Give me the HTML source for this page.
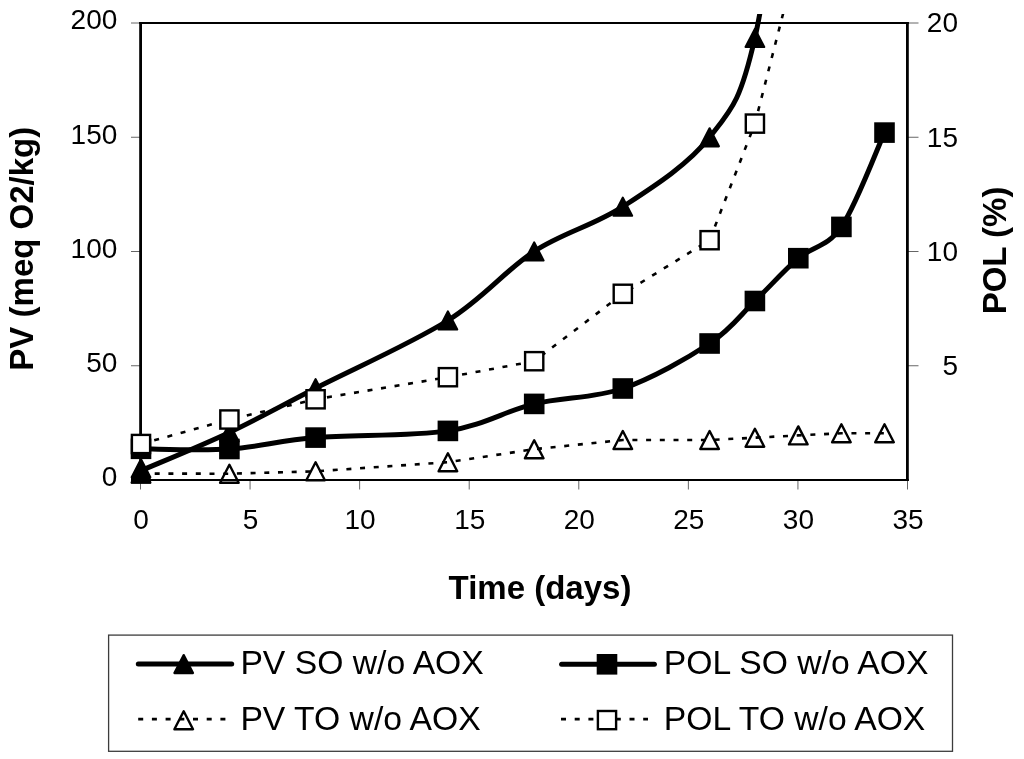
<!DOCTYPE html>
<html><head><meta charset="utf-8"><title>Chart</title>
<style>
html,body{margin:0;padding:0;background:#fff;}
body{width:1024px;height:759px;overflow:hidden;font-family:"Liberation Sans",sans-serif;}
svg{display:block;filter:grayscale(1);}
</style></head><body>
<svg width="1024" height="759" viewBox="0 0 1024 759">
<rect width="1024" height="759" fill="#fff"/>
<defs><clipPath id="pc"><rect x="0" y="14.0" width="1024" height="745.0"/></clipPath></defs>
<g opacity="0.6"><line x1="131" y1="480.00" x2="140" y2="480.00" stroke="#000" stroke-width="1"/>
<line x1="131" y1="365.75" x2="140" y2="365.75" stroke="#000" stroke-width="1"/>
<line x1="907" y1="365.75" x2="918.5" y2="365.75" stroke="#000" stroke-width="1"/>
<line x1="131" y1="251.50" x2="140" y2="251.50" stroke="#000" stroke-width="1"/>
<line x1="907" y1="251.50" x2="918.5" y2="251.50" stroke="#000" stroke-width="1"/>
<line x1="131" y1="137.25" x2="140" y2="137.25" stroke="#000" stroke-width="1"/>
<line x1="907" y1="137.25" x2="918.5" y2="137.25" stroke="#000" stroke-width="1"/>
<line x1="131" y1="23.00" x2="140" y2="23.00" stroke="#000" stroke-width="1"/>
<line x1="907" y1="23.00" x2="918.5" y2="23.00" stroke="#000" stroke-width="1"/>
<line x1="140.50" y1="480" x2="140.50" y2="489.5" stroke="#000" stroke-width="1"/>
<line x1="250.07" y1="480" x2="250.07" y2="489.5" stroke="#000" stroke-width="1"/>
<line x1="359.64" y1="480" x2="359.64" y2="489.5" stroke="#000" stroke-width="1"/>
<line x1="469.21" y1="480" x2="469.21" y2="489.5" stroke="#000" stroke-width="1"/>
<line x1="578.79" y1="480" x2="578.79" y2="489.5" stroke="#000" stroke-width="1"/>
<line x1="688.36" y1="480" x2="688.36" y2="489.5" stroke="#000" stroke-width="1"/>
<line x1="797.93" y1="480" x2="797.93" y2="489.5" stroke="#000" stroke-width="1"/>
<line x1="907.50" y1="480" x2="907.50" y2="489.5" stroke="#000" stroke-width="1"/></g>
<line x1="140.6" y1="22" x2="140.6" y2="481" stroke="#000" stroke-width="2.8"/>
<line x1="907.4" y1="22" x2="907.4" y2="481" stroke="#000" stroke-width="2.8"/>
<line x1="139.2" y1="23" x2="908.8" y2="23" stroke="#000" stroke-width="2"/>
<line x1="139.2" y1="480" x2="908.8" y2="480" stroke="#000" stroke-width="2"/>
<g clip-path="url(#pc)">
<path d="M141.00 470.60 C155.73 464.23 200.30 446.13 229.40 432.40 C258.50 418.67 279.18 406.85 315.60 388.20 C352.02 369.55 411.47 343.30 447.90 320.50 C484.33 297.70 505.05 270.37 534.20 251.40 C563.35 232.43 593.57 225.72 622.80 206.70 C652.03 187.68 687.58 165.42 709.60 137.30 C731.62 109.18 740.12 102.55 754.90 38.00 C769.68 -26.55 791.07 -202.00 798.30 -250.00" fill="none" stroke="#000" stroke-width="5.00" stroke-linejoin="round"/>
<polygon points="141.00,459.20 150.30,477.20 131.70,477.20" fill="#000" stroke="#000" stroke-width="2.2" stroke-linejoin="round"/>
<polygon points="229.40,423.40 238.70,441.40 220.10,441.40" fill="#000" stroke="#000" stroke-width="2.2" stroke-linejoin="round"/>
<polygon points="315.60,379.20 324.90,397.20 306.30,397.20" fill="#000" stroke="#000" stroke-width="2.2" stroke-linejoin="round"/>
<polygon points="447.90,311.50 457.20,329.50 438.60,329.50" fill="#000" stroke="#000" stroke-width="2.2" stroke-linejoin="round"/>
<polygon points="534.20,242.40 543.50,260.40 524.90,260.40" fill="#000" stroke="#000" stroke-width="2.2" stroke-linejoin="round"/>
<polygon points="622.80,197.70 632.10,215.70 613.50,215.70" fill="#000" stroke="#000" stroke-width="2.2" stroke-linejoin="round"/>
<polygon points="709.60,128.30 718.90,146.30 700.30,146.30" fill="#000" stroke="#000" stroke-width="2.2" stroke-linejoin="round"/>
<polygon points="754.90,29.00 764.20,47.00 745.60,47.00" fill="#000" stroke="#000" stroke-width="2.2" stroke-linejoin="round"/>
<path d="M141.00 473.60 L229.40 473.70 L315.60 471.30 L447.90 462.20 L534.20 449.20 L622.80 440.00 L709.60 440.00 L754.90 437.70 L798.30 435.40 L841.40 433.30 L884.50 433.30" fill="none" stroke="#000" stroke-width="2.60" stroke-dasharray="5 8.7"/>
<polygon points="141.00,464.60 150.30,482.60 131.70,482.60" fill="none" stroke="#000" stroke-width="2.4" stroke-linejoin="round"/>
<polygon points="229.40,464.70 238.70,482.70 220.10,482.70" fill="none" stroke="#000" stroke-width="2.4" stroke-linejoin="round"/>
<polygon points="315.60,462.30 324.90,480.30 306.30,480.30" fill="none" stroke="#000" stroke-width="2.4" stroke-linejoin="round"/>
<polygon points="447.90,453.20 457.20,471.20 438.60,471.20" fill="none" stroke="#000" stroke-width="2.4" stroke-linejoin="round"/>
<polygon points="534.20,440.20 543.50,458.20 524.90,458.20" fill="none" stroke="#000" stroke-width="2.4" stroke-linejoin="round"/>
<polygon points="622.80,431.00 632.10,449.00 613.50,449.00" fill="none" stroke="#000" stroke-width="2.4" stroke-linejoin="round"/>
<polygon points="709.60,431.00 718.90,449.00 700.30,449.00" fill="none" stroke="#000" stroke-width="2.4" stroke-linejoin="round"/>
<polygon points="754.90,428.70 764.20,446.70 745.60,446.70" fill="none" stroke="#000" stroke-width="2.4" stroke-linejoin="round"/>
<polygon points="798.30,426.40 807.60,444.40 789.00,444.40" fill="none" stroke="#000" stroke-width="2.4" stroke-linejoin="round"/>
<polygon points="841.40,424.30 850.70,442.30 832.10,442.30" fill="none" stroke="#000" stroke-width="2.4" stroke-linejoin="round"/>
<polygon points="884.50,424.30 893.80,442.30 875.20,442.30" fill="none" stroke="#000" stroke-width="2.4" stroke-linejoin="round"/>
<rect x="131" y="477.4" width="19.8" height="6.2" fill="#000"/>
<path d="M141.00 448.80 C155.73 448.83 200.30 450.87 229.40 449.00 C258.50 447.13 279.18 440.62 315.60 437.60 C352.02 434.58 411.47 436.52 447.90 430.90 C484.33 425.28 505.05 410.97 534.20 403.90 C563.35 396.83 593.57 398.57 622.80 388.50 C652.03 378.43 687.58 358.08 709.60 343.50 C731.62 328.92 740.12 315.22 754.90 301.00 C769.68 286.78 783.88 270.55 798.30 258.20 C812.72 245.85 827.03 247.83 841.40 226.90 C855.77 205.97 877.32 148.32 884.50 132.60" fill="none" stroke="#000" stroke-width="5.00" stroke-linejoin="round"/>
<rect x="130.70" y="438.50" width="20.60" height="20.60" fill="#000"/>
<rect x="219.10" y="438.70" width="20.60" height="20.60" fill="#000"/>
<rect x="305.30" y="427.30" width="20.60" height="20.60" fill="#000"/>
<rect x="437.60" y="420.60" width="20.60" height="20.60" fill="#000"/>
<rect x="523.90" y="393.60" width="20.60" height="20.60" fill="#000"/>
<rect x="612.50" y="378.20" width="20.60" height="20.60" fill="#000"/>
<rect x="699.30" y="333.20" width="20.60" height="20.60" fill="#000"/>
<rect x="744.60" y="290.70" width="20.60" height="20.60" fill="#000"/>
<rect x="788.00" y="247.90" width="20.60" height="20.60" fill="#000"/>
<rect x="831.10" y="216.60" width="20.60" height="20.60" fill="#000"/>
<rect x="874.20" y="122.30" width="20.60" height="20.60" fill="#000"/>
<path d="M141.00 444.00 L229.40 419.50 L315.60 399.30 L447.90 377.20 L534.20 361.20 L622.80 293.80 L709.60 240.20 L754.90 123.60 L798.30 -45.70" fill="none" stroke="#000" stroke-width="2.60" stroke-dasharray="5 8.7"/>
<rect x="131.90" y="434.90" width="18.20" height="18.20" fill="#fff" stroke="#000" stroke-width="2.4"/>
<rect x="220.30" y="410.40" width="18.20" height="18.20" fill="#fff" stroke="#000" stroke-width="2.4"/>
<rect x="306.50" y="390.20" width="18.20" height="18.20" fill="#fff" stroke="#000" stroke-width="2.4"/>
<rect x="438.80" y="368.10" width="18.20" height="18.20" fill="#fff" stroke="#000" stroke-width="2.4"/>
<rect x="525.10" y="352.10" width="18.20" height="18.20" fill="#fff" stroke="#000" stroke-width="2.4"/>
<rect x="613.70" y="284.70" width="18.20" height="18.20" fill="#fff" stroke="#000" stroke-width="2.4"/>
<rect x="700.50" y="231.10" width="18.20" height="18.20" fill="#fff" stroke="#000" stroke-width="2.4"/>
<rect x="745.80" y="114.50" width="18.20" height="18.20" fill="#fff" stroke="#000" stroke-width="2.4"/>
</g>
<g font-family="Liberation Sans, sans-serif" font-size="28.0" fill="#000"><text x="117.3" y="486.30" text-anchor="end">0</text>
<text x="117.3" y="372.05" text-anchor="end">50</text>
<text x="117.3" y="257.80" text-anchor="end">100</text>
<text x="117.3" y="143.55" text-anchor="end">150</text>
<text x="117.3" y="29.30" text-anchor="end">200</text>
<text x="958" y="375.05" text-anchor="end">5</text>
<text x="958" y="260.80" text-anchor="end">10</text>
<text x="958" y="146.55" text-anchor="end">15</text>
<text x="958" y="32.30" text-anchor="end">20</text>
<text x="141.00" y="529" text-anchor="middle">0</text>
<text x="250.57" y="529" text-anchor="middle">5</text>
<text x="360.14" y="529" text-anchor="middle">10</text>
<text x="469.71" y="529" text-anchor="middle">15</text>
<text x="579.29" y="529" text-anchor="middle">20</text>
<text x="688.86" y="529" text-anchor="middle">25</text>
<text x="798.43" y="529" text-anchor="middle">30</text>
<text x="908.00" y="529" text-anchor="middle">35</text></g>
<g font-family="Liberation Sans, sans-serif" font-weight="bold" font-size="33.0" fill="#000">
<text x="540" y="599.3" text-anchor="middle">Time (days)</text>
<text transform="translate(32.9 248.7) rotate(-90)" text-anchor="middle">PV (meq O2/kg)</text>
<text transform="translate(1005.8 250.5) rotate(-90)" text-anchor="middle">POL (%)</text>
</g>
<rect x="108.6" y="635.1" width="843.9" height="116.2" fill="none" stroke="#3c3c3c" stroke-width="1.3"/>
<line x1="138.3" y1="664" x2="231.7" y2="664" stroke="#000" stroke-width="5" stroke-linecap="round"/>
<polygon points="183.70,655.10 193.00,673.10 174.40,673.10" fill="#000" stroke="#000" stroke-width="2.2" stroke-linejoin="round"/>
<line x1="138.2" y1="719.2" x2="226" y2="719.2" stroke="#000" stroke-width="2.8" stroke-dasharray="5 8.7"/>
<polygon points="183.70,711.20 193.00,729.20 174.40,729.20" fill="none" stroke="#000" stroke-width="2.4" stroke-linejoin="round"/>
<line x1="561.6" y1="664.2" x2="654.4" y2="664.2" stroke="#000" stroke-width="5" stroke-linecap="round"/>
<rect x="596.70" y="654.00" width="20.60" height="20.60" fill="#000"/>
<line x1="561" y1="719.2" x2="648" y2="719.2" stroke="#000" stroke-width="2.8" stroke-dasharray="5 8.7"/>
<rect x="597.90" y="711.00" width="18.20" height="18.20" fill="#fff" stroke="#000" stroke-width="2.4"/>
<g font-family="Liberation Sans, sans-serif" font-size="33.7" fill="#000">
<text x="240.4" y="674.3">PV SO w/o AOX</text>
<text x="240.4" y="730.1">PV TO w/o AOX</text>
<text x="663.8" y="674.2">POL SO w/o AOX</text>
<text x="663.8" y="729.8">POL TO w/o AOX</text>
</g>
</svg>
</body></html>
